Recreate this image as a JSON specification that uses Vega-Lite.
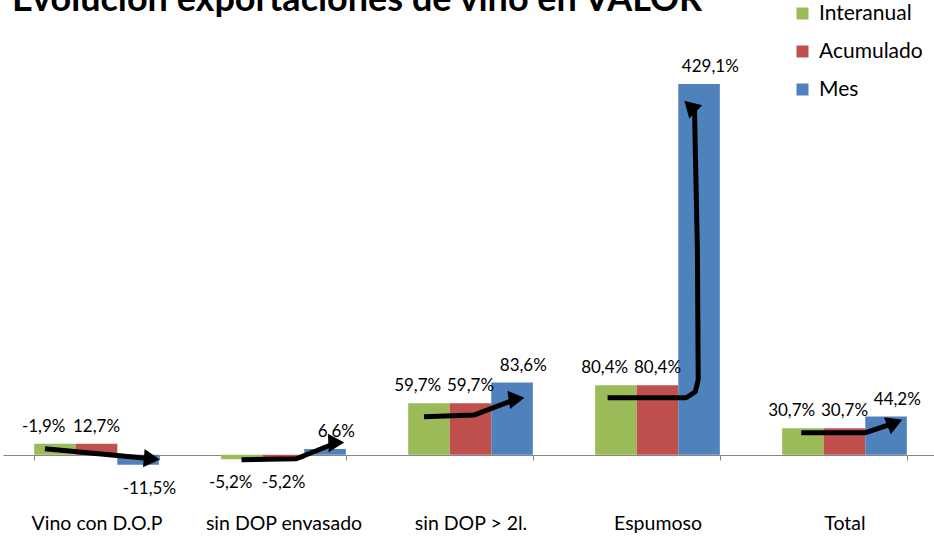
{
  "$schema": "https://vega.github.io/schema/vega-lite/v6.json",
  "width": 935,
  "height": 432,
  "autosize": {"type": "none"},
  "padding": {"left": 3, "top": 66, "right": 0, "bottom": 43},
  "background": "white",
  "config": {"view": {"stroke": null}, "font": "Lato"},
  "title": {
    "text": "Evolución exportaciones de vino en VALOR",
    "anchor": "start",
    "frame": "group",
    "fontSize": 36,
    "fontWeight": "bold",
    "font": "Lato",
    "color": "#000000",
    "baseline": "alphabetic",
    "offset": 0,
    "dx": 9,
    "dy": 44
  },
  "datasets": {
    "barras": [
      {"cat": "Vino con D.O.P", "serie": "Interanual", "valor": 12.7, "etiqueta": "-1,9%"},
      {"cat": "Vino con D.O.P", "serie": "Acumulado", "valor": 12.7, "etiqueta": "12,7%"},
      {"cat": "Vino con D.O.P", "serie": "Mes", "valor": -11.5, "etiqueta": "-11,5%"},
      {"cat": "sin DOP envasado", "serie": "Interanual", "valor": -5.2, "etiqueta": "-5,2%"},
      {"cat": "sin DOP envasado", "serie": "Acumulado", "valor": -5.2, "etiqueta": "-5,2%"},
      {"cat": "sin DOP envasado", "serie": "Mes", "valor": 6.6, "etiqueta": "6,6%"},
      {"cat": "sin DOP > 2l.", "serie": "Interanual", "valor": 59.7, "etiqueta": "59,7%"},
      {"cat": "sin DOP > 2l.", "serie": "Acumulado", "valor": 59.7, "etiqueta": "59,7%"},
      {"cat": "sin DOP > 2l.", "serie": "Mes", "valor": 83.6, "etiqueta": "83,6%"},
      {"cat": "Espumoso", "serie": "Interanual", "valor": 80.4, "etiqueta": "80,4%"},
      {"cat": "Espumoso", "serie": "Acumulado", "valor": 80.4, "etiqueta": "80,4%"},
      {"cat": "Espumoso", "serie": "Mes", "valor": 429.1, "etiqueta": "429,1%"},
      {"cat": "Total", "serie": "Interanual", "valor": 30.7, "etiqueta": "30,7%"},
      {"cat": "Total", "serie": "Acumulado", "valor": 30.7, "etiqueta": "30,7%"},
      {"cat": "Total", "serie": "Mes", "valor": 44.2, "etiqueta": "44,2%"}
    ],
    "flechas": [
      {"cat": "Vino con D.O.P", "pos": 0.26, "valor": 6.9, "paso": 1},
      {"cat": "Vino con D.O.P", "pos": 2.83, "valor": -4.6, "paso": 2},
      {"cat": "sin DOP envasado", "pos": 0.49, "valor": -5.8, "paso": 1},
      {"cat": "sin DOP envasado", "pos": 1.81, "valor": -4.6, "paso": 2},
      {"cat": "sin DOP envasado", "pos": 2.77, "valor": 13.9, "paso": 3},
      {"cat": "sin DOP > 2l.", "pos": 0.38, "valor": 44, "paso": 1},
      {"cat": "sin DOP > 2l.", "pos": 1.58, "valor": 46, "paso": 2},
      {"cat": "sin DOP > 2l.", "pos": 2.61, "valor": 64.8, "paso": 3},
      {"cat": "Espumoso", "pos": 0.3, "valor": 66, "paso": 1},
      {"cat": "Espumoso", "pos": 2.19, "valor": 66, "paso": 2},
      {"cat": "Espumoso", "pos": 2.41, "valor": 73, "paso": 3},
      {"cat": "Espumoso", "pos": 2.48, "valor": 87, "paso": 4},
      {"cat": "Espumoso", "pos": 2.46, "valor": 237, "paso": 5},
      {"cat": "Espumoso", "pos": 2.41, "valor": 353, "paso": 6},
      {"cat": "Espumoso", "pos": 2.39, "valor": 402, "paso": 7},
      {"cat": "Total", "pos": 0.46, "valor": 25.4, "paso": 1},
      {"cat": "Total", "pos": 1.99, "valor": 25.4, "paso": 2},
      {"cat": "Total", "pos": 2.71, "valor": 37, "paso": 3}
    ]
  },
  "layer": [
    {
      "data": {"name": "barras"},
      "mark": {"type": "bar"},
      "encoding": {
        "x": {
          "field": "cat", "type": "nominal",
          "sort": ["Vino con D.O.P", "sin DOP envasado", "sin DOP > 2l.", "Espumoso", "Total"],
          "scale": {"paddingInner": 0.3333, "paddingOuter": 0.1667},
          "axis": {
            "orient": "bottom", "offset": -43, "title": null,
            "domainColor": "#868686", "domainWidth": 1,
            "tickColor": "#868686", "tickSize": 5, "tickBand": "extent",
            "labelPadding": 54, "labelFontSize": 19.5, "labelColor": "#000000",
            "labelAngle": 0, "labelFont": "Lato"
          }
        },
        "xOffset": {"field": "serie", "type": "nominal", "sort": ["Interanual", "Acumulado", "Mes"]},
        "y": {"field": "valor", "type": "quantitative", "scale": {"domain": [-50, 450]}, "axis": null},
        "color": {
          "field": "serie", "type": "nominal",
          "scale": {"domain": ["Interanual", "Acumulado", "Mes"], "range": ["#9BBB59", "#C0504D", "#4F81BD"]},
          "legend": {
            "orient": "none", "legendX": 789, "legendY": -63, "title": null,
            "symbolType": "square", "symbolSize": 144, "symbolStrokeWidth": 0,
            "labelFontSize": 21, "labelFont": "Lato", "labelColor": "#000000",
            "rowPadding": 16, "padding": 0, "labelOffset": 6
          }
        }
      }
    },
    {
      "data": {"name": "barras"},
      "transform": [{"filter": "datum.valor >= 0"}],
      "mark": {"type": "text", "baseline": "bottom", "dy": -8, "fontSize": 17, "font": "Lato", "color": "#000000"},
      "encoding": {
        "x": {"field": "cat", "type": "nominal", "sort": ["Vino con D.O.P", "sin DOP envasado", "sin DOP > 2l.", "Espumoso", "Total"]},
        "xOffset": {"field": "serie", "type": "nominal", "sort": ["Interanual", "Acumulado", "Mes"], "scale": {"type": "point", "padding": 0.18}},
        "y": {"field": "valor", "type": "quantitative"},
        "text": {"field": "etiqueta"}
      }
    },
    {
      "data": {"name": "barras"},
      "transform": [{"filter": "datum.valor < 0"}],
      "mark": {"type": "text", "baseline": "top", "dy": 16, "fontSize": 17, "font": "Lato", "color": "#000000"},
      "encoding": {
        "x": {"field": "cat", "type": "nominal", "sort": ["Vino con D.O.P", "sin DOP envasado", "sin DOP > 2l.", "Espumoso", "Total"]},
        "xOffset": {"field": "serie", "type": "nominal", "sort": ["Interanual", "Acumulado", "Mes"], "scale": {"type": "point", "padding": 0.18, "domain": ["Interanual", "Acumulado", "Mes"]}},
        "y": {"field": "valor", "type": "quantitative"},
        "text": {"field": "etiqueta"}
      }
    },
    {
      "data": {"name": "flechas"},
      "mark": {"type": "line", "color": "#000000", "strokeWidth": 5, "strokeJoin": "round"},
      "encoding": {
        "x": {"field": "cat", "type": "nominal", "sort": ["Vino con D.O.P", "sin DOP envasado", "sin DOP > 2l.", "Espumoso", "Total"]},
        "xOffset": {"field": "pos", "type": "quantitative", "scale": {"domain": [0, 3]}},
        "y": {"field": "valor", "type": "quantitative"},
        "detail": {"field": "cat"},
        "order": {"field": "paso"}
      }
    },
    {
      "data": {"name": "flechas"},
      "transform": [
        {"joinaggregate": [{"op": "max", "field": "paso", "as": "ultimo"}], "groupby": ["cat"]},
        {"filter": "datum.paso == datum.ultimo"}
      ],
      "mark": {"type": "point", "shape": "triangle-up", "filled": true, "color": "#000000", "size": 340, "opacity": 1},
      "encoding": {
        "x": {"field": "cat", "type": "nominal", "sort": ["Vino con D.O.P", "sin DOP envasado", "sin DOP > 2l.", "Espumoso", "Total"]},
        "xOffset": {"field": "pos", "type": "quantitative", "scale": {"domain": [0, 3]}},
        "y": {"field": "valor", "type": "quantitative"},
        "angle": {
          "field": "cat", "type": "nominal",
          "scale": {"domain": ["Vino con D.O.P", "sin DOP envasado", "sin DOP > 2l.", "Espumoso", "Total"], "range": [95, 68, 70, 0, 72]},
          "legend": null
        }
      }
    }
  ],
  "resolve": {"scale": {"xOffset": "independent"}}
}
